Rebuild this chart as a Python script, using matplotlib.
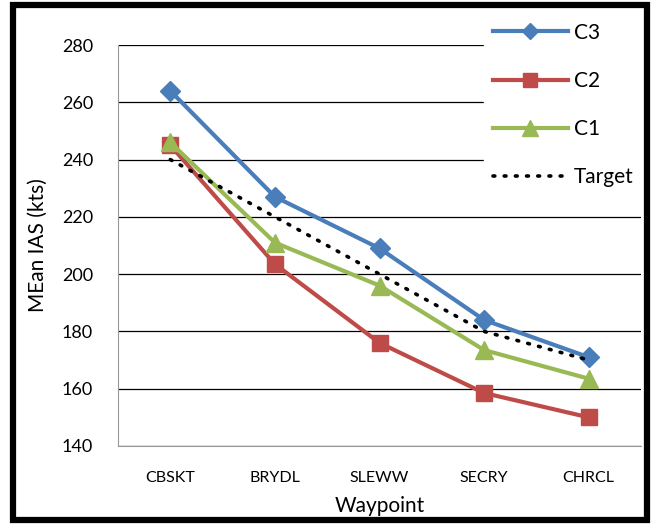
import matplotlib.pyplot as plt
from matplotlib.patches import Rectangle

waypoints = ['CBSKT', 'BRYDL', 'SLEWW', 'SECRY', 'CHRCL']
c3 = [264, 227, 209, 184, 171]
c2 = [245, 203.5, 176, 158.5, 150]
c1 = [246, 211, 196, 173.5, 163.5]
target = [240, 220, 200, 180, 170]
yticks = [140, 160, 180, 200, 220, 240, 260, 280]

plt.rcParams['font.family'] = ['Lato', 'DejaVu Sans']

fig = plt.figure(figsize=(6.52, 5.25), dpi=100)
ax = fig.add_axes([118 / 652, 1 - 446 / 525, 523 / 652, 401 / 525])

x = range(len(waypoints))
ax.plot(x, c3, color='#4A7EBB', lw=3, marker='D', ms=10, label='C3', zorder=3)
ax.plot(x, c2, color='#BE4B48', lw=3, marker='s', ms=12, label='C2', zorder=3)
ax.plot(x, c1, color='#98B954', lw=3, marker='^', ms=13, label='C1', zorder=3)
ax.plot(x, target, color='black', lw=2.6, linestyle=(0, (0.5, 2.6)),
        dash_capstyle='round', label='Target', zorder=4)

ax.set_xlim(-0.5, len(waypoints) - 0.5)
ax.set_ylim(140, 280)
ax.set_yticks(yticks)
ax.set_xticks(list(x))
ax.set_xticklabels(waypoints, fontsize=11.5)
ax.tick_params(axis='y', labelsize=13, length=0, pad=18)
ax.tick_params(axis='x', length=0, pad=18)
ax.yaxis.grid(True, color='black', lw=0.9)
ax.set_axisbelow(True)
for s in ['top', 'right']:
    ax.spines[s].set_visible(False)
for s in ['left', 'bottom']:
    ax.spines[s].set_color('#999999')
ax.set_ylabel('MEan IAS (kts)', fontsize=15, labelpad=10)
ax.set_xlabel('Waypoint', fontsize=15, labelpad=8)

leg = fig.legend(loc='upper left', bbox_to_anchor=(474 / 652, 1 - 4 / 525),
                 fontsize=15, frameon=True, fancybox=False, edgecolor='white',
                 framealpha=1, handlelength=3.6, labelspacing=1.35,
                 handletextpad=0.3, borderpad=0.4, markerscale=0.85)
leg.set_zorder(5)

# black frame round the chart
fig.patches.append(Rectangle((13.5 / 652, 1 - 520 / 525), 633 / 652, 515 / 525,
                             transform=fig.transFigure, fill=False,
                             edgecolor='black', lw=4.5, zorder=10))

fig.savefig('out.png', dpi=100)
